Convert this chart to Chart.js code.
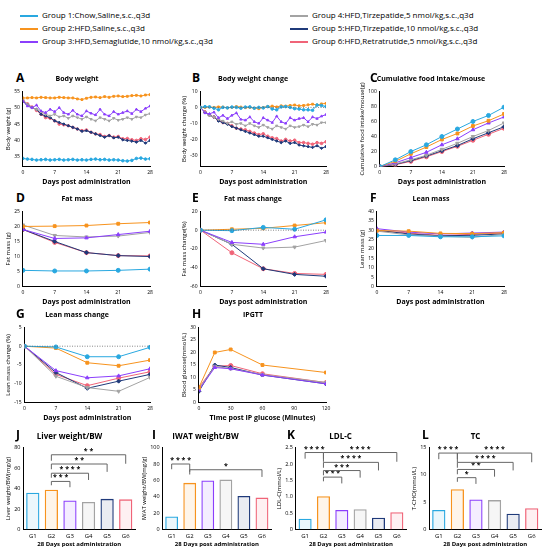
<!DOCTYPE html>
<html><head><meta charset="utf-8">
<script src="https://cdn.jsdelivr.net/npm/chart.js@4.4.0/dist/chart.umd.min.js"></script>
<style>
body{margin:0;background:#fff;font-family:"Open Sans",sans-serif;width:550px;height:559px;position:relative;overflow:hidden}
.p{position:absolute}
.lt{position:absolute;font-weight:bold;font-size:12px}
#leg{position:absolute;left:20px;top:8px;width:520px;font-size:8px;line-height:14px}
#leg div{position:absolute;white-space:nowrap}
#leg span{display:inline-block;width:18px;height:2px;vertical-align:middle;margin-right:4px;position:relative}
</style></head><body>
<div id="leg"></div>
<script>
const groups = ['Group 1:Chow,Saline,s.c.,q3d','Group 2:HFD,Saline,s.c.,q3d','Group 3:HFD,Semaglutide,10 nmol/kg,s.c.,q3d',
  'Group 4:HFD,Tirzepatide,5 nmol/kg,s.c.,q3d','Group 5:HFD,Tirzepatide,10 nmol/kg,s.c.,q3d','Group 6:HFD,Retratrutide,5 nmol/kg,s.c.,q3d'];
const colors = ['#29a8e0','#f7931e','#8b3ffc','#a3a3a3','#1f3a7a','#f06478'];
const marks = ['circle','rect','triangle','triangle','rectRot','circle'];
const gLabels = ['G1','G2','G3','G4','G5','G6'];

const days = [0,1,2,3,4,5,6,7,8,9,10,11,12,13,14,15,16,17,18,19,20,21,22,23,24,25,26,27,28];
const bw = [
 [34.5,34.3,34.2,34.0,34.1,34.2,34.0,34.1,34.2,34.0,34.1,34.2,34.0,34.1,34.0,34.2,34.3,34.1,34.2,34.0,34.1,34.0,33.8,33.7,33.9,34.5,34.6,34.3,34.4],
 [53.0,53.0,53.1,53.0,53.2,53.1,53.0,53.0,53.2,53.1,53.0,53.0,52.7,52.5,52.9,53.2,53.3,53.1,53.4,53.2,53.5,53.6,53.4,53.5,53.7,53.8,53.6,53.9,54.0],
 [52.0,50.5,50.0,50.8,49.0,48.5,49.5,48.8,50.0,48.5,48.0,49.2,48.0,47.5,49.0,48.3,47.8,49.5,48.0,47.5,48.8,48.0,48.5,49.0,48.2,49.5,48.8,49.8,50.5],
 [52.5,51.0,50.0,49.5,48.8,48.0,47.5,48.0,47.2,47.5,46.8,47.5,47.0,46.5,47.2,46.5,46.0,47.0,46.5,46.0,46.8,46.2,46.5,47.0,46.5,47.2,47.0,47.8,48.2],
 [52.0,51.0,50.0,49.5,48.0,47.5,47.0,46.0,45.5,45.0,44.5,44.0,43.5,42.8,43.0,42.5,42.0,41.5,41.0,41.5,40.8,41.0,40.2,40.0,39.8,39.5,40.0,39.2,40.0],
 [52.2,51.2,50.2,49.2,48.0,47.0,46.8,46.0,45.0,44.8,44.5,44.0,43.5,43.0,43.2,42.5,42.0,41.8,41.2,41.5,41.0,41.2,40.5,40.6,40.2,40.0,40.5,40.3,41.0]];
const bwc = [
 [0,0.5,0.3,-0.5,-1.5,0,-0.3,0.2,0,-0.5,0.2,0.3,-0.5,0,-0.3,0.5,-1,-1.5,0.3,0.5,0,-0.8,-1,-1.5,-1.5,-1.8,1.5,1.2,0.5],
 [0,0,0.2,0,0.3,0.2,-0.3,0,0.5,0.2,-0.2,0,-0.5,-0.8,0,0.5,0.8,0.3,1,0.8,1.2,1.5,1,1.2,1.6,2,1.5,2.2,2.5],
 [0,-3.5,-4,-3,-6.5,-5,-7,-5,-3.5,-7.5,-8,-6,-9,-10,-6.5,-8,-9.5,-5.5,-9,-10,-6.5,-8,-7,-6.5,-9,-6,-7,-5.5,-4.5],
 [0,-3,-5,-6,-7.5,-8.5,-10,-9,-10.5,-10,-11.5,-10,-11.5,-12.5,-11,-12.5,-13.5,-11.5,-12.5,-13.5,-11.5,-12.5,-12,-11,-12,-10.5,-11,-9.5,-9.5],
 [0,-3,-5,-6,-8.5,-9.5,-10.5,-12,-13,-14,-15,-16,-17,-18,-18,-19,-20,-21,-22,-21,-22.5,-22,-23.5,-24,-24.5,-25,-24,-25.5,-24.5],
 [0,-2.8,-4.8,-6,-8,-9.5,-10,-11.5,-13,-13.5,-14,-15,-16,-17,-16.5,-18,-19,-19.5,-21,-20,-21,-20.5,-22,-22,-22.5,-23,-22,-22.5,-21.5]];
const foodDays = [0,3.5,7,10.5,14,17.5,21,24.5,28];
const food = [
 [0,9,20,29,40,50,60,68,79],[0,7,17,26,36,44,54,61,70],[0,5,12,19,29,37,49,58,66],
 [0,3.5,9,15,23,31,40,48,58],[0,3,8,14,21,28,37,45,53],[0,2.5,7,13,20,27,35,43,51]];
const wk = [0,7,14,21,28];
const fat = [[5.4,5.2,5.2,5.4,5.8],[20,20.1,20.3,20.9,21.3],[19,16,16.2,17.3,18.4],[20.5,17,16.5,16.8,18],[19,15,11.3,10.3,10],[19,14.7,11.3,10.3,10.2]];
const fatc = [[0,-0.5,3,1,11],[0,1,2,5,8],[0,-13,-15,-7,-2],[0,-15,-19,-18,-11],[0,-15,-41,-47,-49],[0,-24,-41,-46,-47]];
const lean = [[27.2,27.2,26.5,26.5,27],[29.8,29.5,28.3,28.2,28.7],[30.8,29,28,28.5,29],[29.5,27.5,26.8,26.2,27.8],[30,28,27,27.3,28],[29.8,28.5,27.2,27.8,28.5]];
const leanc = [[0,-0.2,-2.8,-2.8,-0.3],[0,-0.5,-4.4,-5.2,-3.7],[0,-6.5,-8.4,-7.9,-6],[0,-8,-11,-12,-8.3],[0,-7,-11.2,-9.3,-7.5],[0,-7.5,-10.5,-8.5,-6.8]];
const gttMin = [0,15,30,60,120];
const gtt = [null,[6,20,21.2,15,12],[5,14,13.5,11,7.5],[5.5,14.5,13.5,11.2,8],[4.5,15,14,11,7.5],[6,14.5,14.8,11.5,8]];
const liver = [36,39,28.5,27,30,29.5];
const iwat = [16,57,60,61,41,39];
const ldl = [0.33,1.02,0.6,0.62,0.36,0.53];
const tc = [3.6,7.4,5.5,5.4,2.9,3.9];
const liverSig = [[1,2,47,'* * *'],[1,3,55,'* * * *'],[1,4,64,'* *'],[1,5,73,'* *']];
const iwatSig = [[0,1,80,'* * * *'],[1,5,73,'*']];
const ldlSig = [[0,1,2.35,'* * * *'],[1,2,1.6,'* * *'],[1,3,1.8,'* * *'],[1,4,2.05,'* * * *'],[1,5,2.35,'* * * *']];
const tcSig = [[0,1,14,'* * * *'],[1,2,9.5,'*'],[1,3,11,'* *'],[1,4,12.3,'* * * *'],[1,5,14,'* * * *']];

// legend
const leg = document.getElementById('leg');
groups.forEach((g,i)=>{
  const d = document.createElement('div');
  d.style.left = (i<3?0:270)+'px'; d.style.top = (i%3)*13+'px';
  d.innerHTML = '<span style="background:'+colors[i]+'"></span>'+g;
  leg.appendChild(d);
});

Chart.defaults.font.family = '"Open Sans", sans-serif';
Chart.defaults.font.size = 5;
Chart.defaults.color = '#000';
Chart.defaults.animation = false;

function panel(letter,x,y,w,h){
  const l = document.createElement('div'); l.className='lt'; l.textContent=letter;
  l.style.left=(x+12)+'px'; l.style.top=(y-4)+'px'; document.body.appendChild(l);
  const d = document.createElement('div'); d.className='p';
  d.style.left=x+'px'; d.style.top=y+'px'; d.style.width=w+'px'; d.style.height=h+'px';
  const c = document.createElement('canvas'); d.appendChild(c); document.body.appendChild(d);
  return c;
}
function axes(xmin,xmax,xstep,ymin,ymax,ystep,xt,yt){
  const tk = {font:{size:5},padding:1};
  return {
    x:{type:'linear',min:xmin,max:xmax,grid:{display:false,drawTicks:true,tickLength:2},border:{color:'#000',width:1},
       ticks:Object.assign({stepSize:xstep},tk),title:{display:true,text:xt,font:{size:7,weight:'bold'},padding:1}},
    y:{min:ymin,max:ymax,grid:{display:false,tickLength:2},border:{color:'#000',width:1},
       afterBuildTicks:a=>{a.ticks=a.ticks.filter(t=>Math.abs(t.value/ystep-Math.round(t.value/ystep))<1e-6);},
       ticks:Object.assign({stepSize:ystep},tk),title:{display:true,text:yt,font:{size:6},padding:1}}
  };
}
function lineChart(c,title,xs,series,ax,zero){
  const ds = [];
  const r = xs.length>10?1.3:2;
  series.forEach((s,i)=>{ if(!s) return;
    ds.push({data:xs.map((x,j)=>({x:x,y:s[j]})),borderColor:colors[i],backgroundColor:colors[i],borderWidth:1,
      pointStyle:marks[i],pointRadius:r,rotation:i===3?180:0});
  });
  if(zero) ds.unshift({data:[{x:xs[0],y:0},{x:xs[xs.length-1],y:0}],borderColor:'#666',borderWidth:0.8,borderDash:[1,1.5],pointRadius:0});
  new Chart(c,{type:'line',data:{datasets:ds},options:{responsive:true,maintainAspectRatio:false,
    layout:{padding:{right:36,top:0}},
    plugins:{legend:{display:false},tooltip:{enabled:false},title:{display:true,text:title,font:{size:7,weight:'bold'},padding:{top:2,bottom:8}}},
    scales:ax}});
}
const sigPlugin = {id:'sig',afterDatasetsDraw(ch,a,o){
  const sx=ch.scales.x, sy=ch.scales.y, g=ch.ctx;
  g.save(); g.strokeStyle='#666'; g.lineWidth=1; g.fillStyle='#000'; g.font='bold 7px "Open Sans"'; g.textAlign='center';
  (o.pairs||[]).forEach(p=>{
    const x1=sx.getPixelForValue(p[0]), x2=sx.getPixelForValue(p[1]), yy=sy.getPixelForValue(p[2]);
    const d=(sy.getPixelForValue(0)-yy)*0.08;
    g.beginPath(); g.moveTo(x1,yy+d); g.lineTo(x1,yy); g.lineTo(x2,yy); g.lineTo(x2,yy+d*1.5); g.stroke();
    g.fillText(p[3],(x1+x2)/2,yy-2);
  });
  g.restore();
}};
function barChart(c,title,vals,ymax,ystep,yt,pairs){
  new Chart(c,{type:'bar',data:{labels:gLabels,datasets:[{data:vals,backgroundColor:colors.map(x=>x+'18'),borderColor:colors,borderWidth:1.3,
      barPercentage:0.75,categoryPercentage:0.95}]},
    plugins:[sigPlugin],
    options:{responsive:true,maintainAspectRatio:false,layout:{padding:{right:4}},
    plugins:{legend:{display:false},tooltip:{enabled:false},sig:{pairs:pairs},
      title:{display:true,text:title,font:{size:8,weight:'bold'},padding:{top:2,bottom:6}}},
    scales:{x:{grid:{display:false,tickLength:2},border:{color:'#000'},ticks:{font:{size:6},padding:1},
        title:{display:true,text:'28 Days post administration',font:{size:6,weight:'bold'},padding:0}},
      y:{min:0,max:ymax,grid:{display:false,tickLength:2},border:{color:'#000'},ticks:{stepSize:ystep,font:{size:5.5},padding:1},
        title:{display:true,text:yt,font:{size:6},padding:1}}}}});
}
const dpa='Days post administration';
lineChart(panel('A',4,73,182,114),'Body weight',days,bw,axes(0,28,7,32,55,5,dpa,'Body weight (g)'));
lineChart(panel('B',180,73,182,114),'Body weight change',days,bwc,axes(0,28,7,-37,10,10,dpa,'Body weight change (%)'),true);
lineChart(panel('C',358,73,182,114),'Cumulative food intake/mouse',foodDays,food,axes(0,28,7,0,100,20,dpa,'Cumulative food intake/mouse(g)'));
lineChart(panel('D',4,193,182,114),'Fat mass',wk,fat,axes(0,28,7,0,25,5,dpa,'Fat mass (g)'));
lineChart(panel('E',180,193,182,114),'Fat mass change',wk,fatc,axes(0,28,7,-60,20,20,dpa,'Fat mass change(%)'),true);
lineChart(panel('F',358,193,182,114),'Lean mass',wk,lean,axes(0,28,7,0,40,5,dpa,'Lean mass (g)'));
lineChart(panel('G',4,309,182,114),'Lean mass change',wk,leanc,axes(0,28,7,-15,5,5,dpa,'Lean mass change (%)'),true);
lineChart(panel('H',180,309,182,114),'IPGTT',gttMin,gtt,axes(0,120,30,0,30,5,'Time post IP glucose (Minutes)','Blood glucose(mmol/L)'));
barChart(panel('J',4,430,135,118),'Liver weight/BW',liver,80,20,'Liver weight/BW(mg/g)',liverSig);
barChart(panel('I',140,430,135,118),'IWAT weight/BW',iwat,100,20,'IWAT weight/BW(mg/g)',iwatSig);
barChart(panel('K',275,430,135,118),'LDL-C',ldl,2.5,0.5,'LDL-C(mmol/L)',ldlSig);
barChart(panel('L',410,430,135,118),'TC',tc,15,5,'T-CHO(mmol/L)',tcSig);
</script>
</body></html>
